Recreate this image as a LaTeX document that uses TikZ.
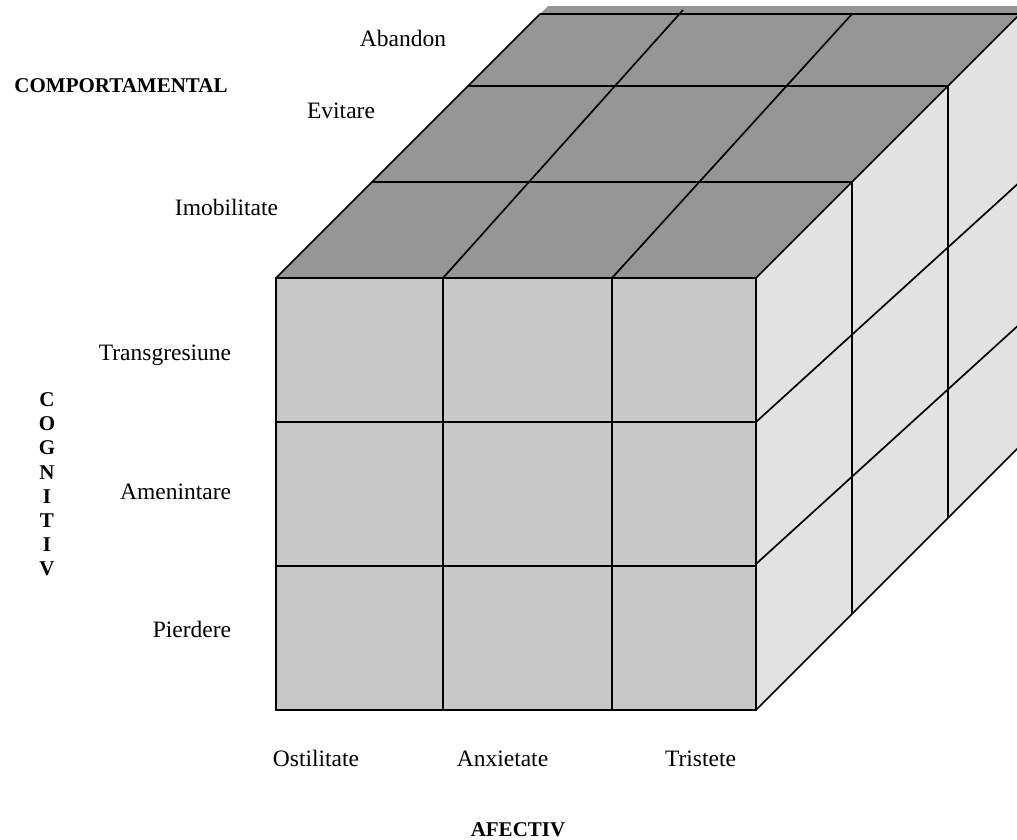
\documentclass[tikz,border=0pt]{standalone}
\usepackage{fontspec}
\setmainfont{Liberation Serif}
\definecolor{topc}{RGB}{150,150,150}
\definecolor{frontc}{RGB}{200,200,200}
\definecolor{rightc}{RGB}{226,226,226}
\begin{document}
\begin{tikzpicture}[x=1pt,y=-1pt,line width=1.7pt,
  lab/.style={font=\fontsize{23.5}{28}\selectfont,anchor=base,inner sep=0pt},
  labr/.style={lab,anchor=base east},
  axislab/.style={font=\bfseries\fontsize{21}{24}\selectfont,anchor=base,inner sep=0pt}]
\useasboundingbox (0,0) rectangle (1017,840);
\begin{scope}
\clip (0,7) rectangle (1017,840);
% faces
\fill[topc] (276,278) -- (756,278) -- (1044,-10) -- (564,-10) -- cycle;
\fill[rightc] (756,278) -- (1044,-10) -- (1044,422) -- (756,710) -- cycle;
\fill[frontc] (276,278) rectangle (756,710);
% front grid
\draw (276,278) rectangle (756,710);
\draw (443,278) -- (443,710);
\draw (612,278) -- (612,710);
\draw (276,422) -- (756,422);
\draw (276,566) -- (756,566);
% top face
\draw (276,278) -- (540,14);
\draw (756,278) -- (1044,-10);
\draw (372,182) -- (852,182);
\draw (468,86) -- (948,86);
\draw (540,14) -- (1030,14);
\draw (443,278) -- (683,10);
\draw (612,278) -- (852,14);
% right face
\draw (756,710) -- (1044,422);
\draw (852,182) -- (852,614);
\draw (948,86) -- (948,518);
\draw (756,422) -- (1044,160);
\draw (756,564) -- (1044,302);
\end{scope}
% labels
\node[lab] (abandon) at (403,47) {Abandon};
\node[lab] (evitare) at (341,119) {Evitare};
\node[lab] (imob) at (226.5,215) {Imobilitate};
\node[labr] (transg) at (232,360) {Transgresiune};
\node[labr] (amen) at (232,499) {Amenintare};
\node[labr] (pierd) at (232,637) {Pierdere};
\node[lab] (ostil) at (316,766) {Ostilitate};
\node[lab] (anx) at (502.5,766) {Anxietate};
\node[lab] (trist) at (700.5,766) {Tristete};
\node[axislab] (afectiv) at (518,836) {AFECTIV};
\node[axislab] (comport) at (121,93) {COMPORTAMENTAL};
\node[axislab,anchor=north,align=center,font=\bfseries\fontsize{21}{24.1}\selectfont] (cognitiv) at (47,392) {C\\O\\G\\N\\I\\T\\I\\V};
\end{tikzpicture}
\end{document}
